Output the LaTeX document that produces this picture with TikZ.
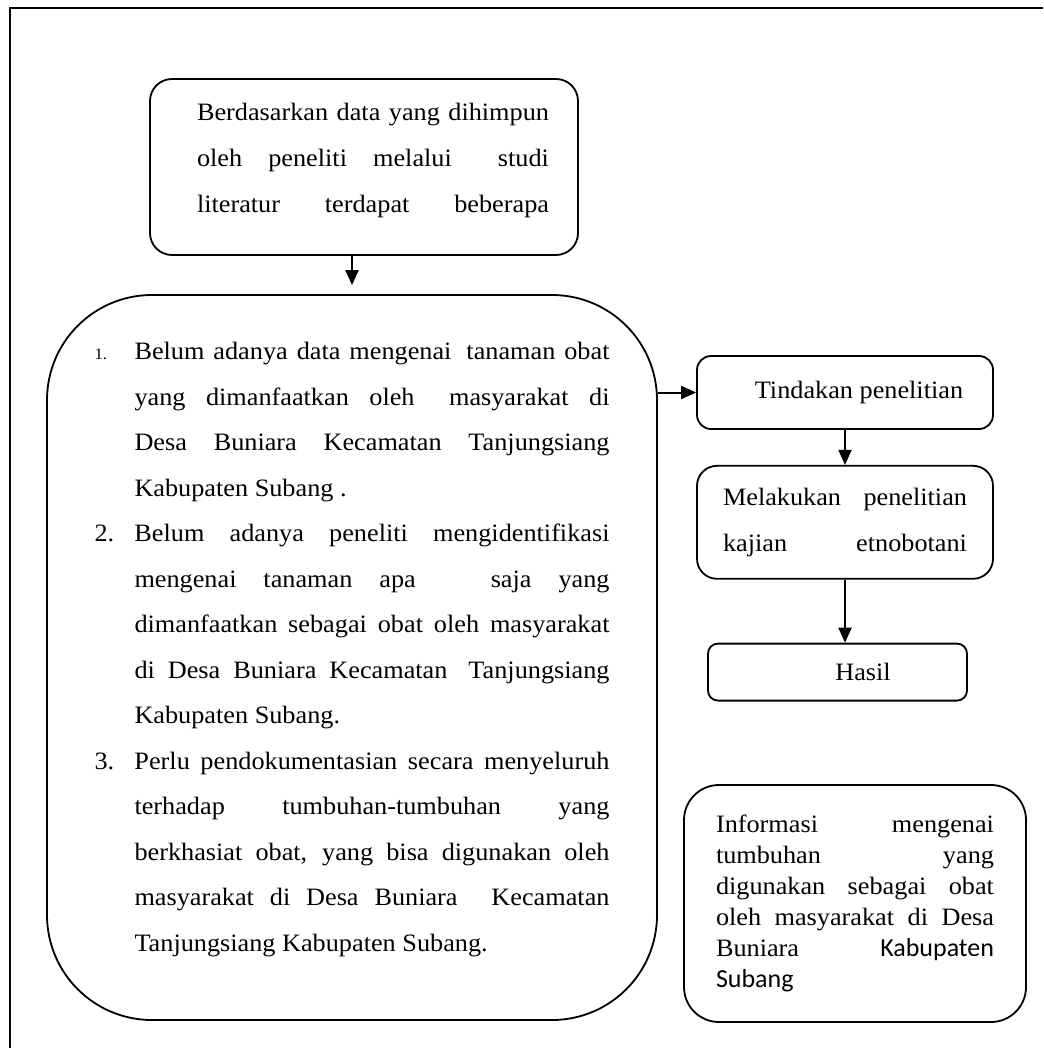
\documentclass[tikz,border=0pt]{standalone}
\usepackage{fontspec}
\setmainfont{Liberation Serif}[FakeStretch=1.05]
\newfontfamily\calibrifont{Carlito}
\usetikzlibrary{shapes.geometric, arrows.meta, positioning}

\newcommand{\jline}[2]{\makebox[#1][s]{#2}}

\begin{document}
\begin{tikzpicture}[
    x=1pt, y=-1pt,
    flow box/.style = {
        rectangle,
        draw=black,
        line width=1.8pt,
        rounded corners=#1,
        inner sep=0pt,
        align=left,
        font=\fontsize{25}{46}\selectfont
    },
    flow arrow/.style = {-{Triangle[width=13pt,length=15pt]}, line width=2pt}
]

\useasboundingbox (0,0) rectangle (1043,1048);
\draw[line width=1.8pt] (10,1048) -- (10,8) -- (1043,8);

\node [flow box=22pt, minimum width=428pt, minimum height=176pt] (data) at (364,167) {
    \hspace*{18pt}\jline{352pt}{Berdasarkan data yang dihimpun}\\
    \hspace*{18pt}\jline{352pt}{oleh peneliti melalui\hspace{20pt} studi}\\
    \hspace*{18pt}\jline{352pt}{literatur terdapat beberapa}\\[-28pt]
    \mbox{}};

\node [flow box=105pt, minimum width=610pt, minimum height=725pt, font=\fontsize{25}{45.5}\selectfont] (masalah) at (352,657.5) {
    \makebox[40pt][l]{\fontsize{16}{16}\selectfont 1.}\jline{475pt}{Belum adanya data mengenai\hspace{6pt} tanaman obat}\\
    \hspace*{40pt}\jline{475pt}{yang dimanfaatkan oleh\hspace{14pt} masyarakat di}\\
    \hspace*{40pt}\jline{475pt}{Desa Buniara Kecamatan Tanjungsiang}\\
    \hspace*{40pt}Kabupaten Subang .\\
    \makebox[40pt][l]{2.}\jline{475pt}{Belum adanya peneliti mengidentifikasi}\\
    \hspace*{40pt}\jline{475pt}{mengenai tanaman apa\hspace{48pt} saja yang}\\
    \hspace*{40pt}\jline{475pt}{dimanfaatkan sebagai obat oleh masyarakat}\\
    \hspace*{40pt}\jline{475pt}{di Desa Buniara Kecamatan\hspace{8pt} Tanjungsiang}\\
    \hspace*{40pt}Kabupaten Subang.\\
    \makebox[40pt][l]{3.}\jline{475pt}{Perlu pendokumentasian secara menyeluruh}\\
    \hspace*{40pt}\jline{475pt}{terhadap tumbuhan-tumbuhan yang}\\
    \hspace*{40pt}\jline{475pt}{berkhasiat obat, yang bisa digunakan oleh}\\
    \hspace*{40pt}\jline{475pt}{masyarakat di Desa Buniara\hspace{18pt} Kecamatan}\\
    \hspace*{40pt}Tanjungsiang Kabupaten Subang.\\[-24pt]
    \mbox{}};

\node [flow box=14pt, minimum width=296pt, minimum height=73pt] (tindakan) at (845,392.5) {\hspace*{28pt}Tindakan penelitian};

\node [flow box=20pt, minimum width=296pt, minimum height=113pt, below=35pt of tindakan] (kajian) {
    \jline{244pt}{Melakukan penelitian}\\
    \jline{244pt}{kajian etnobotani}};

\node [flow box=10pt, minimum width=259pt, minimum height=57pt, below=63pt of kajian, xshift=-7.5pt] (hasil) {\hspace*{51pt}Hasil};

\node [flow box=35pt, minimum width=342pt, minimum height=237pt, font=\fontsize{25}{31}\selectfont] (info) at (855,903.5) {
    \jline{278pt}{Informasi mengenai}\\
    \jline{278pt}{tumbuhan yang}\\
    \jline{278pt}{digunakan sebagai obat}\\
    \jline{278pt}{oleh masyarakat di Desa}\\
    \jline{278pt}{Buniara {\calibrifont\fontsize{26}{31}\selectfont Kabupaten}}\\
    {\calibrifont\fontsize{26}{31}\selectfont Subang}};

\draw [flow arrow] (data.south -| masalah.north) -- ([yshift=9pt]masalah.north);

\draw [flow arrow] (masalah.east |- tindakan.west) -- (tindakan.west);

\draw [flow arrow] (tindakan.south) -- (kajian.north);

\draw [flow arrow] (kajian.south) -- (kajian.south |- hasil.north);

\end{tikzpicture}
\end{document}
